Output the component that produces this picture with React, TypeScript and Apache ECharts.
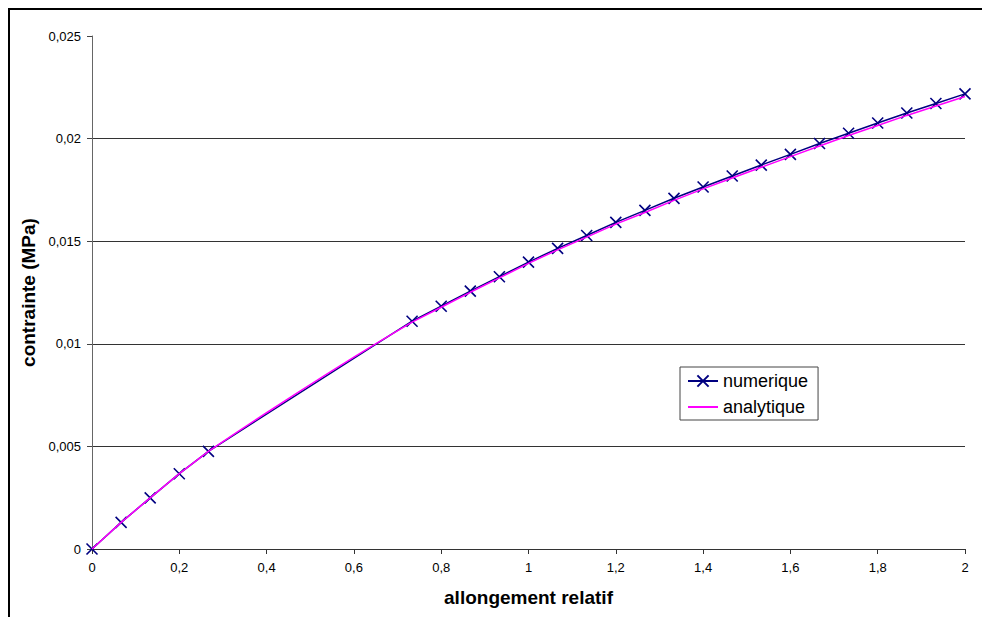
import React, { useEffect, useRef } from "react";
import * as echarts from "echarts";

const numX = [0, 0.0667, 0.1333, 0.2, 0.2667, 0.7333, 0.8, 0.8667, 0.9333, 1.0, 1.0667, 1.1333, 1.2, 1.2667, 1.3333, 1.4, 1.4667, 1.5333, 1.6, 1.6667, 1.7333, 1.8, 1.8667, 1.9333, 2.0];
const numY = [0, 0.0013, 0.00249, 0.00367, 0.00476, 0.0111, 0.01183, 0.01257, 0.01327, 0.01398, 0.01465, 0.01528, 0.01592, 0.0165, 0.01709, 0.01764, 0.01818, 0.01871, 0.01923, 0.01976, 0.02026, 0.02076, 0.02125, 0.02171, 0.02218];

const anaX = [0, 0.0667, 0.1333, 0.2, 0.2667, 0.3333, 0.4, 0.4667, 0.5333, 0.6, 0.6667, 0.7333, 0.8, 0.8667, 0.9333, 1.0, 1.0667, 1.1333, 1.2, 1.2667, 1.3333, 1.4, 1.4667, 1.5333, 1.6, 1.6667, 1.7333, 1.8, 1.8667, 1.9333, 2.0];
const anaY = [0, 0.0013, 0.00249, 0.00367, 0.00476, 0.00571, 0.00664, 0.00756, 0.00846, 0.00935, 0.01022, 0.01106, 0.01178, 0.01251, 0.01321, 0.01392, 0.01458, 0.0152, 0.01583, 0.0164, 0.01699, 0.01755, 0.01808, 0.0186, 0.01912, 0.01964, 0.02015, 0.02064, 0.02113, 0.02159, 0.02205];

const seriesNames = ["numerique", "analytique"];
const xTitle = "allongement relatif";
const yTitle = "contrainte (MPa)";

const FONT = "'Liberation Sans', Arial, sans-serif";
const fmt = (v: number) => String(+v.toFixed(4)).replace(".", ",");

export default function App() {
  const ref = useRef<HTMLDivElement>(null);
  useEffect(() => {
    if (!ref.current) return;
    const chart = echarts.init(ref.current, undefined, { renderer: "svg" });
    chart.setOption({
      animation: false,
      backgroundColor: "#ffffff",
      textStyle: { fontFamily: FONT },
      graphic: [
        {
          type: "rect",
          silent: true,
          shape: { x: 9, y: 9, width: 1400, height: 1400 },
          style: { fill: "none", stroke: "#000", lineWidth: 2 },
        },
      ],
      grid: { left: 92, top: 36, width: 873, height: 513, containLabel: false },
      legend: {
        orient: "vertical",
        left: 680,
        top: 367,
        padding: [4, 10, 3, 7],
        itemGap: 6,
        itemWidth: 30,
        itemHeight: 14,
        borderColor: "#444",
        borderWidth: 1,
        borderRadius: 0,
        backgroundColor: "#fff",
        textStyle: { fontSize: 18, color: "#000", fontFamily: FONT, lineHeight: 20 },
        data: [
          { name: seriesNames[0] },
          { name: seriesNames[1], itemStyle: { opacity: 0 } },
        ],
      },
      xAxis: {
        type: "value",
        min: 0,
        max: 2,
        interval: 0.2,
        name: xTitle,
        nameLocation: "middle",
        nameGap: 39,
        nameTextStyle: { fontSize: 19, fontWeight: "bold", color: "#000", fontFamily: FONT },
        axisLine: { show: true, lineStyle: { color: "#333", width: 1 } },
        axisTick: { show: true, length: 5, lineStyle: { color: "#333" } },
        axisLabel: { fontSize: 13, color: "#000", margin: 12, formatter: fmt, fontFamily: FONT },
        splitLine: { show: false },
      },
      yAxis: {
        type: "value",
        min: 0,
        max: 0.025,
        interval: 0.005,
        name: yTitle,
        nameLocation: "middle",
        nameGap: 54,
        nameTextStyle: { fontSize: 19, fontWeight: "bold", color: "#000", fontFamily: FONT },
        axisLine: { show: true, lineStyle: { color: "#666", width: 1 } },
        axisTick: { show: true, length: 5, lineStyle: { color: "#444" } },
        axisLabel: { fontSize: 13, color: "#000", margin: 11, formatter: fmt, fontFamily: FONT },
        splitLine: { show: true, showMaxLine: false, lineStyle: { color: "#333", width: 1 } },
      },
      series: [
        {
          name: seriesNames[0],
          type: "line",
          data: numX.map((x, i) => [x, numY[i]]),
          symbol: "path://M0,0L10,10M10,0L0,10",
          symbolSize: 11,
          showAllSymbol: true,
          color: "#000080",
          lineStyle: { color: "#000080", width: 1.5 },
          itemStyle: { color: "#000080", borderColor: "#000080", borderWidth: 1.6 },
          z: 2,
        },
        {
          name: seriesNames[1],
          type: "line",
          data: anaX.map((x, i) => [x, anaY[i]]),
          symbol: "none",
          showSymbol: false,
          smooth: false,
          color: "#ff00ff",
          lineStyle: { color: "#ff00ff", width: 1.5 },
          itemStyle: { color: "#ff00ff" },
          z: 3,
        },
      ],
    });
    return () => chart.dispose();
  }, []);
  return (
    <div
      ref={ref}
      style={{ position: "fixed", left: 0, top: 0, width: 982, height: 617 }}
    />
  );
}
